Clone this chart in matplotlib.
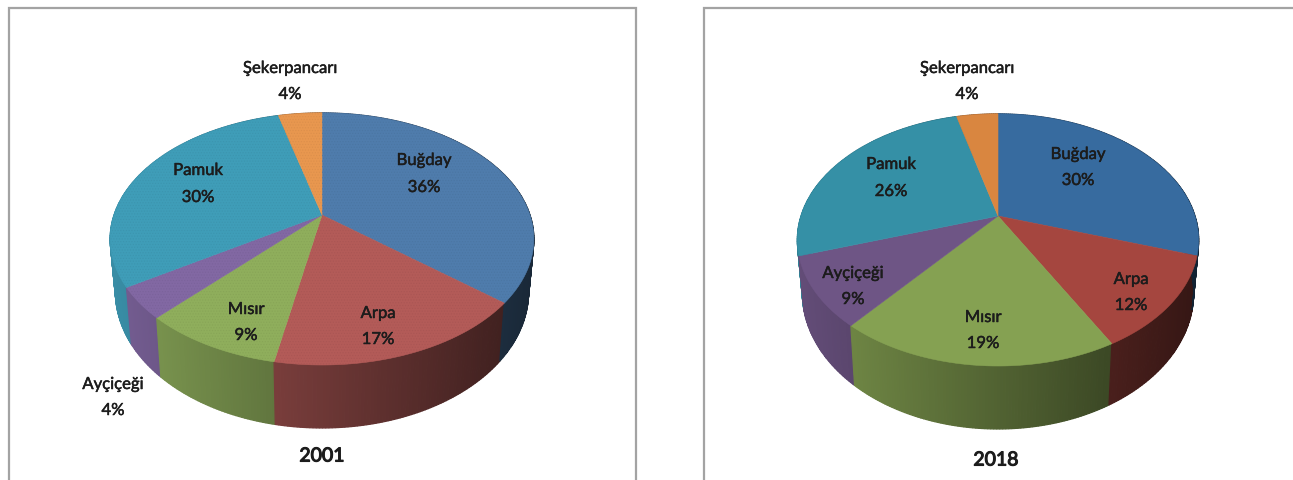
import numpy as np
import matplotlib
matplotlib.use("Agg")
import matplotlib.pyplot as plt
import matplotlib.patheffects as pe
from matplotlib.colors import to_rgb

categories = ["Buğday", "Arpa", "Mısır", "Ayçiçeği", "Pamuk", "Şekerpancarı"]
shares_2001 = [36, 17, 9, 4, 30, 4]
shares_2018 = [30, 12, 19, 9, 26, 4]
colors_2001 = ["#4f7cac", "#b35b58", "#8fae5c", "#8268a3", "#3f9db8", "#e8974f"]
colors_2018 = ["#376b9f", "#a5463f", "#85a152", "#6e5585", "#3590a6", "#d98640"]
titles = ["2001", "2018"]

FONT = "Lato"
LABEL_SIZE = 12
TITLE_SIZE = 14
W, H = 1293, 480
K = 0.19
INK = "#1c1c1c"
halo = [pe.withStroke(linewidth=0.35, foreground=INK)]
title_halo = [pe.withStroke(linewidth=0.8, foreground=INK)]

plt.rcParams["hatch.linewidth"] = 0.5

fig = plt.figure(figsize=(W / 100, H / 100), dpi=100, facecolor="white")
ax = fig.add_axes([0, 0, 1, 1])
ax.set_xlim(0, W)
ax.set_ylim(H, 0)
ax.axis("off")


def project(a, geo):
    """Angle clockwise from the back of the pie to screen position on the rim."""
    x, y = np.sin(a), np.cos(a)
    return geo["cx"] + geo["R"] * x / (1 + K * y), geo["cy"] - geo["B"] * y / (1 + K * y)


def side_points(a, geo):
    x, y = np.sin(a), np.cos(a)
    d = geo["D"] / (1 + K * y)
    px, py = project(a, geo)
    return geo["cx"] + (px - geo["cx"]) * 0.975, py + d


def draw_pie(shares, colors, geo, speckle=False):
    edges = np.cumsum([0] + list(shares)) / sum(shares) * 2 * np.pi
    # side wall, shaded left to right
    for i, col in enumerate(colors):
        base = np.array(to_rgb(col))
        aa = np.linspace(edges[i], edges[i + 1], max(3, int((edges[i + 1] - edges[i]) * 80)))
        tx, ty = project(aa, geo)
        bx, by = side_points(aa, geo)
        for j in range(len(aa) - 1):
            u = ((tx[j] + tx[j + 1]) / 2 - geo["cx"]) / geo["rx"]
            f = 0.61 - 0.29 * u
            ax.fill([tx[j], tx[j + 1], bx[j + 1], bx[j]],
                    [ty[j], ty[j + 1], by[j + 1], by[j]],
                    color=tuple(base * f), lw=0.9, zorder=2 + j * 1e-4)
    # top surface
    for i, col in enumerate(colors):
        aa = np.linspace(edges[i], edges[i + 1], 120)
        tx, ty = project(aa, geo)
        ax.fill(np.r_[geo["cx"], tx], np.r_[geo["cy"], ty], color=col, lw=0.4, zorder=3)
        if speckle:
            ax.fill(np.r_[geo["cx"], tx], np.r_[geo["cy"], ty], facecolor="none", lw=0,
                    edgecolor=tuple(np.array(to_rgb(col)) * 0.95), hatch="......", zorder=3.1)


def frame(x0, x1):
    ax.plot([x0, x0, x1, x1], [H, 7.5, 7.5, H], color="#a3a3a3", lw=1.6, zorder=1,
            solid_joinstyle="miter")


def label(x, y1, y2, name, share):
    for y, s in ((y1, name), (y2, f"{share}%")):
        ax.text(x, y, s, family=FONT, fontsize=LABEL_SIZE, color=INK, ha="center", va="center",
                zorder=5, path_effects=halo)


geo_l = dict(cx=322, cy=215, R=208, B=121.5, D=51, rx=212)
geo_r = dict(cx=998, cy=216, R=197, B=121.5, D=51, rx=201)

pos_l = [(424, 160, 187), (378, 313, 339), (246, 309, 335), (113, 384, 410), (198, 170, 197), (290, 68, 94)]
pos_r = [(1078, 154, 180), (1131, 279, 305), (983, 317, 343), (853, 273, 299), (891, 164, 191), (967, 68, 94)]

frame(8.5, 636)
frame(703.5, W + 5)
draw_pie(shares_2001, colors_2001, geo_l, speckle=True)
draw_pie(shares_2018, colors_2018, geo_r)

for (x, y1, y2), name, s in zip(pos_l, categories, shares_2001):
    label(x, y1, y2, name, s)
for (x, y1, y2), name, s in zip(pos_r, categories, shares_2018):
    label(x, y1, y2, name, s)

ax.text(322, 456, titles[0], family=FONT, fontsize=TITLE_SIZE, color=INK, ha="center", va="center",
        zorder=5, path_effects=title_halo)
ax.text(996, 460, titles[1], family=FONT, fontsize=TITLE_SIZE, color=INK, ha="center", va="center",
        zorder=5, path_effects=title_halo)

fig.savefig("out.png", dpi=100)
